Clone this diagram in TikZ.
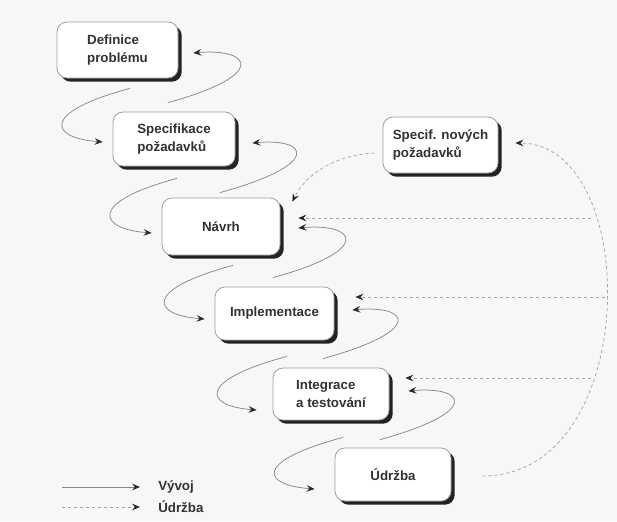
\documentclass[tikz,border=0pt]{standalone}
\usepackage{fontspec}
\setmainfont{Liberation Sans}
\usetikzlibrary{arrows.meta,shadows}

\definecolor{bg}{RGB}{247,247,248}
\definecolor{boxline}{RGB}{160,160,160}
\definecolor{txt}{RGB}{50,50,50}
\definecolor{flow}{RGB}{135,135,135}
\definecolor{maint}{RGB}{165,165,165}
\definecolor{tipc}{RGB}{40,40,40}
\definecolor{shade}{RGB}{35,35,35}

\begin{document}
\begin{tikzpicture}[x=0.75pt,y=-0.75pt,
  >={Stealth[length=6pt,width=5pt,inset=2.2pt,color=tipc]},
  phase/.style={draw=boxline, line width=0.6pt, fill=white, rounded corners=7.5pt,
    drop shadow={shadow xshift=2.8pt, shadow yshift=-2.8pt, fill=shade, opacity=1},
    align=left, font=\fontsize{10}{13.5}\selectfont\bfseries, text=txt, inner sep=0pt},
  dev/.style={draw=flow, line width=0.55pt, ->},
  mnt/.style={draw=maint, line width=0.55pt, dash pattern=on 2.5pt off 2pt, ->},
  legendtext/.style={font=\fontsize{10}{12}\selectfont\bfseries, text=txt,
    anchor=west, inner sep=0pt}]

% canvas
\useasboundingbox (0,0) rectangle (617,521);
\fill[bg] (0,0) rectangle (617,521);

% phases of the life cycle
\node[phase, minimum width=90.75pt, minimum height=42pt]   (def)    at (117.5,50)  {Definice\\problému};
\node[phase, minimum width=91.5pt,  minimum height=40.5pt] (spec)   at (174,139)   {Specifikace\\požadavků};
\node[phase, minimum width=88.5pt,  minimum height=42.75pt](navrh)  at (221,226.5) {Návrh};
\node[phase, minimum width=89.25pt, minimum height=39.75pt](impl)   at (274.5,313.5){Implementace};
\node[phase, minimum width=87pt,    minimum height=39pt]   (integ)  at (331,394)   {Integrace\\a testování};
\node[phase, minimum width=87pt,    minimum height=39.75pt](udrzba) at (393,474.5) {Údržba};
\node[phase, minimum width=86.25pt, minimum height=42pt]   (nove)   at (440.5,145) {Specif. nových\\požadavků};

% development: forward steps
\draw[dev] ([shift={(12.5,10)}]def.south)   .. controls +(-90,24) and +(-53,-4) .. ([shift={(-10,3)}]spec.west);
\draw[dev] ([shift={(3,12)}]spec.south)     .. controls +(-90,24) and +(-53,-4) .. ([shift={(-10,6.5)}]navrh.west);
\draw[dev] ([shift={(12,10)}]navrh.south)   .. controls +(-90,24) and +(-53,-4) .. ([shift={(-10,5.5)}]impl.west);
\draw[dev] ([shift={(12.5,16)}]impl.south)  .. controls +(-90,24) and +(-53,-4) .. ([shift={(-16,16)}]integ.west);
\draw[dev] ([shift={(12,17)}]integ.south)   .. controls +(-90,24) and +(-53,-4) .. ([shift={(-20,14.5)}]udrzba.west);

% development: feedback to the previous phase
\draw[dev] ([shift={(-6,-9)}]spec.north)    .. controls +(102,-28) and +(57,-5) .. ([shift={(15,3)}]def.east);
\draw[dev] ([shift={(-1,-5)}]navrh.north)   .. controls +(102,-28) and +(57,-5) .. ([shift={(17,4)}]spec.east);
\draw[dev] ([shift={(-1.5,-9)}]impl.north)  .. controls +(102,-28) and +(57,-5) .. ([shift={(18,1.5)}]navrh.east);
\draw[dev] ([shift={(-8,-9)}]integ.north)   .. controls +(102,-28) and +(57,-5) .. ([shift={(18,-3.5)}]impl.east);
\draw[dev] ([shift={(-13,-8)}]udrzba.north) .. controls +(102,-28) and +(57,-5) .. ([shift={(19,-3)}]integ.east);

% maintenance loop
\draw[mnt] ([shift={(31,1.5)}]udrzba.east) .. controls +(160,0) and +(127,0) .. ([shift={(17,-2)}]nove.east);
\draw[mnt] ([shift={(-8,8)}]nove.west) .. controls +(-40,2) and +(13,-27) .. ([shift={(12,4)}]navrh.north east);
\coordinate (j1) at (591,218);
\coordinate (j2) at (605,297);
\coordinate (j3) at (591,378);
\draw[mnt] (j1) -- ([shift={(18,-8.5)}]navrh.east);
\draw[mnt] (j2) -- ([shift={(21,-16.5)}]impl.east);
\draw[mnt] (j3) -- ([shift={(16,-16)}]integ.east);

% legend
\node[legendtext] (vyvoj) at (158,487) {Vývoj};
\node[legendtext] (udr)   at (158,507) {Údržba};
\coordinate (l1) at (62,487);
\coordinate (l2) at (62,507);
\draw[dev] (l1) -- ([shift={(-18,0)}]vyvoj.west);
\draw[mnt] (l2) -- ([shift={(-18,0)}]udr.west);
\end{tikzpicture}
\end{document}
